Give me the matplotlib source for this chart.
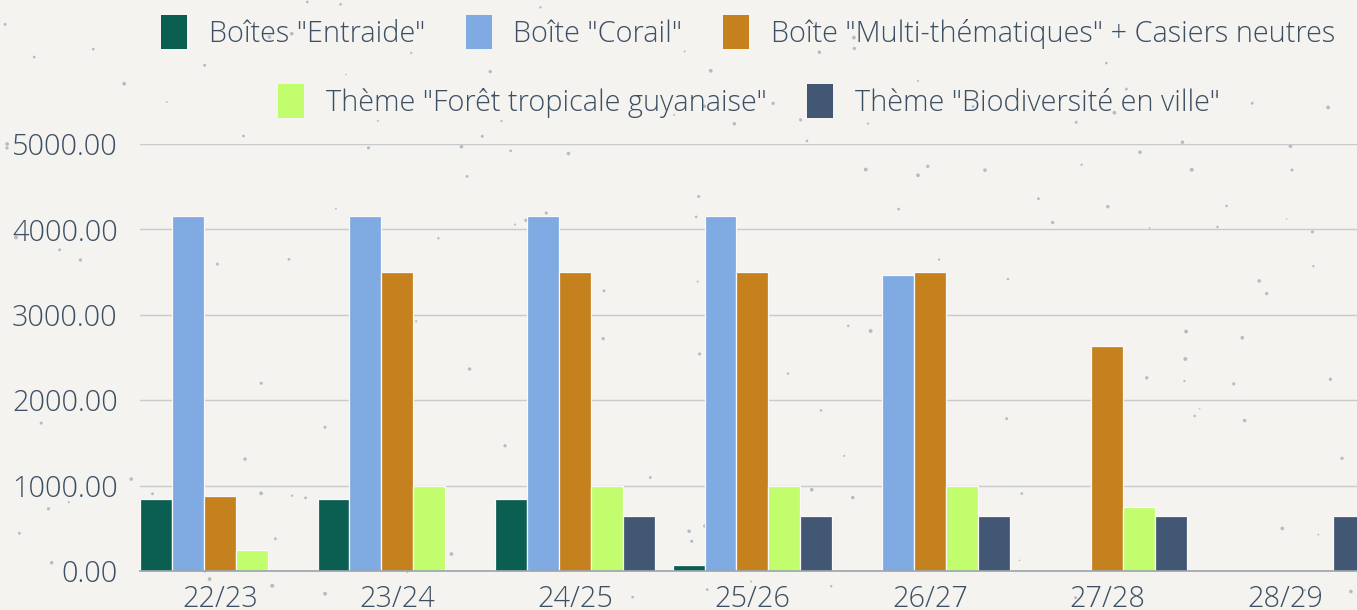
import numpy as np
import matplotlib
matplotlib.use('Agg')
import matplotlib.pyplot as plt
from matplotlib.patches import Patch

# --- Donnees ---
annees = ['22/23', '23/24', '24/25', '25/26', '26/27', '27/28', '28/29']
series = ['Boîtes "Entraide"', 'Boîte "Corail"',
          'Boîte "Multi-thématiques" + Casiers neutres',
          'Thème "Forêt tropicale guyanaise"', 'Thème "Biodiversité en ville"']
entraide = [840, 840, 840, 70, 0, 0, 0]
corail = [4160, 4160, 4160, 4160, 3470, 0, 0]
multi = [880, 3500, 3500, 3500, 3500, 2630, 0]
foret = [250, 1000, 1000, 1000, 1000, 750, 0]
biodiv = [0, 0, 640, 640, 640, 640, 640]
valeurs = [entraide, corail, multi, foret, biodiv]

couleurs = ['#0b5e52', '#7faae2', '#c5811e', '#c2fd6e', '#415773']
FOND = '#f4f3ef'
TEXTE = '#3d4f63'
TAILLE = 20.8

plt.rcParams['font.family'] = ['Open Sans', 'DejaVu Sans']

fig = plt.figure(figsize=(13.57, 6.10), dpi=100)
fig.patch.set_facecolor(FOND)

# petites taches grises du fond
fond = fig.add_axes([0, 0, 1, 1], zorder=0)
fond.set_xlim(0, 1)
fond.set_ylim(0, 1)
fond.axis('off')
rng = np.random.default_rng(7)
n_taches = 170
fond.scatter(rng.uniform(0, 1, n_taches), rng.uniform(0, 1, n_taches),
             s=rng.uniform(1, 8, n_taches), color='#a9b2bd',
             edgecolors='none', alpha=0.85)

ax = fig.add_axes([140 / 1357, 39 / 610, 1 - 140 / 1357, 427 / 610], zorder=1)
ax.set_facecolor('none')

x = np.arange(len(annees))
largeur_groupe = 0.9
largeur = largeur_groupe / len(valeurs)
for i, (vals, c) in enumerate(zip(valeurs, couleurs)):
    pos = x - largeur_groupe / 2 + largeur * (i + 0.5)
    ax.bar(pos, vals, width=largeur, color=c, edgecolor='#fbfaf8',
           linewidth=0.9, zorder=3)

ax.set_xlim(-0.45, (1357 - 220) / 177.5)
ax.set_ylim(0, 5000)
ax.set_yticks([0, 1000, 2000, 3000, 4000, 5000])
ax.yaxis.set_major_formatter(plt.FuncFormatter(lambda v, _: f'{v:.2f}'))
ax.set_xticks(x)
ax.set_xticklabels(annees)
ax.grid(axis='y', color='#c8cacc', linewidth=1.0, zorder=1)
ax.tick_params(axis='both', length=0, labelsize=TAILLE, labelcolor=TEXTE)
ax.tick_params(axis='y', pad=16)
ax.tick_params(axis='x', pad=10)
for lab in ax.get_xticklabels() + ax.get_yticklabels():
    lab.set_fontweight('light')
for s in ['top', 'right', 'left']:
    ax.spines[s].set_visible(False)
ax.spines['bottom'].set_color('#9aa4ae')
ax.spines['bottom'].set_linewidth(1.2)
ax.spines['bottom'].set_zorder(4)

# --- Legende sur deux lignes centrees ---
poignees = [Patch(facecolor=c, edgecolor='none') for c in couleurs]
opts = dict(loc='center', frameon=False, handlelength=0.9,
            handleheight=1.48, handletextpad=0.76, columnspacing=1.4,
            labelcolor=TEXTE, prop={'weight': 'light', 'size': TAILLE})
leg1 = fig.legend(poignees[:3], series[:3], ncol=3,
                  bbox_to_anchor=(748 / 1357, 1 - 32 / 610), **opts)
leg2 = fig.legend(poignees[3:], series[3:], ncol=2,
                  bbox_to_anchor=(749 / 1357, 1 - 101 / 610), **opts)

plt.savefig('out.png', dpi=100, facecolor=FOND)
